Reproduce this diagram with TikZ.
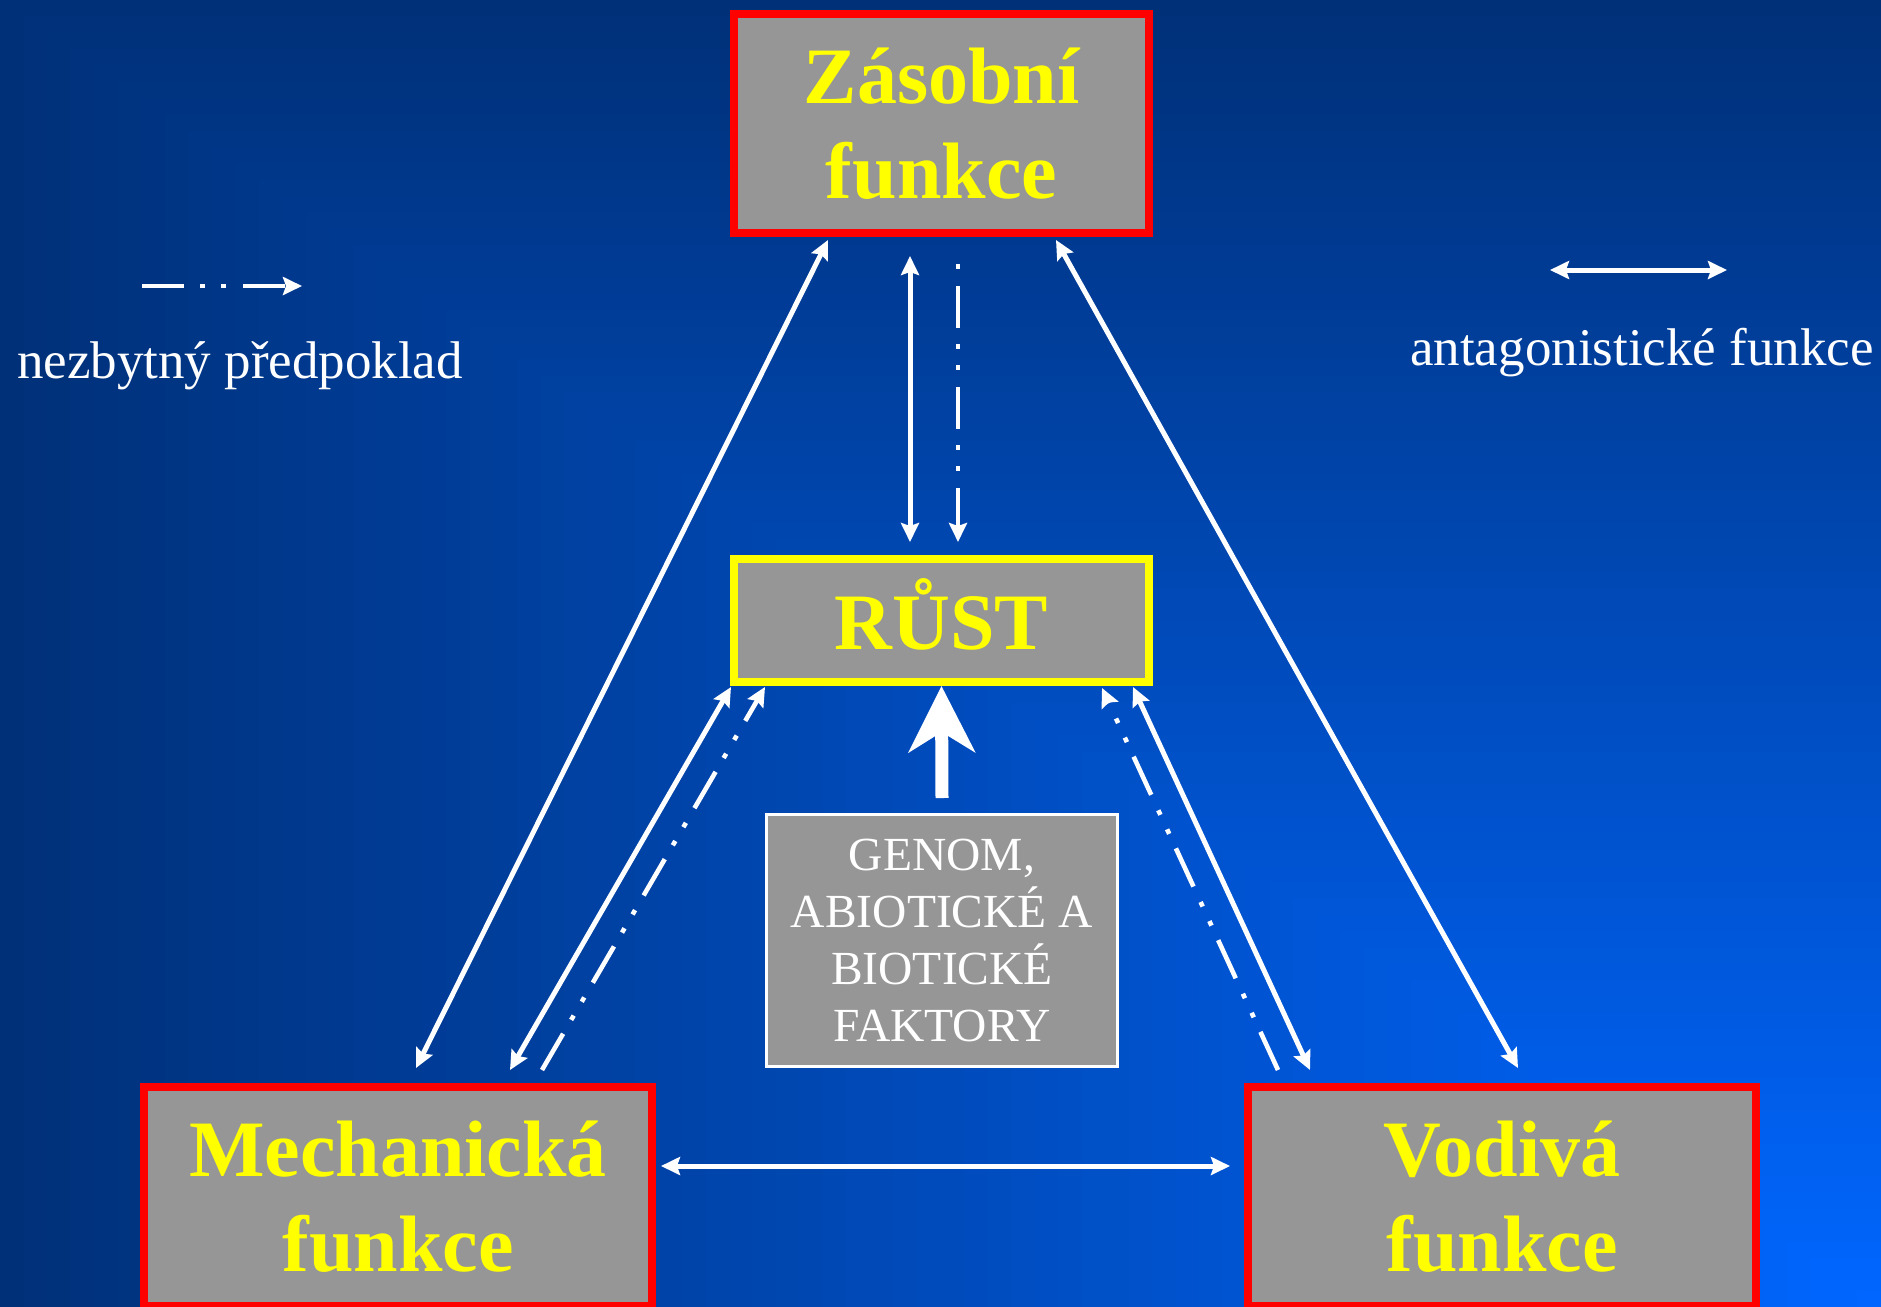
\documentclass[tikz,border=0pt]{standalone}
\usepackage{fontspec}
\setmainfont{Liberation Serif}
\usepackage{tikz}
\usepackage{xcolor}
\usetikzlibrary{arrows.meta,calc}
\definecolor{bgdark}{HTML}{003078}
\definecolor{bgbright}{HTML}{0066FF}
\definecolor{boxgray}{HTML}{969696}
\definecolor{funcred}{HTML}{FF0000}
\definecolor{titleyel}{HTML}{FFFF00}

\begin{document}
\begin{tikzpicture}[x=0.5pt,y=-0.5pt,
  >={Stealth[length=9.5pt,width=9pt,inset=1.5pt]},
  funcbox/.style={draw=funcred,line width=4pt,fill=boxgray,text=titleyel,align=center,
    font=\fontsize{40}{47.5}\selectfont\bfseries,inner sep=0pt,
    minimum width=207.5pt,minimum height=109.5pt},
  twoway/.style={draw=white,line width=2.5pt,<->},
  needs/.style={draw=white,line width=2.3pt,->,
    dash pattern=on 21pt off 8pt on 2.5pt off 8pt on 2.5pt off 8.5pt},
  legend/.style={text=white,font=\fontsize{26.5}{32}\selectfont,inner sep=0pt}]
\useasboundingbox (0,0) rectangle (1881,1307);
\foreach \k in {0,...,79} {
  \pgfmathsetmacro\gmix{100*\k/79}
  \pgfmathsetmacro\gs{1-\k/80}
  \fill[bgbright!\gmix!bgdark] ({1881*(1-\gs)},{1307*(1-\gs)}) rectangle (1881,1307);
}

\node (zas) at (941.5,123.5) [funcbox] {Zásobní\\funkce};
\node (rust) at (941.5,620.5) [funcbox,draw=titleyel,minimum height=61.5pt,
  text height=28.5pt,text depth=0pt] {RŮST};
\node (mech) at (398,1196.5) [funcbox,minimum width=254pt] {Mechanická\\funkce};
\node (vod) at (1502,1196.5) [funcbox,minimum width=254pt] {Vodivá\\funkce};
\node (genom) at (942,940.5) [draw=white,line width=1.5pt,fill=boxgray,text=white,
  align=center,font=\fontsize{23.75}{28.6}\selectfont,inner sep=0pt,
  minimum width=175.5pt,minimum height=126pt] {GENOM,\\ABIOTICKÉ A\\BIOTICKÉ\\FAKTORY};

\draw[white,line width=6.5pt,-{Stealth[length=33pt,width=33pt,inset=10pt]}]
  ($(genom.north)+(0,-15)$) -- (rust.south);

\draw[twoway] ($(zas.south)+(-113.5,3)$) -- ($(mech.north)+(18,-15)$);
\draw[twoway] ($(zas.south)+(114.5,3)$) -- ($(vod.north)+(16,-15)$);
\draw[twoway] ($(zas.south)+(-31.5,19)$) -- ($(rust.north)+(-31.5,-13)$);
\draw[needs,dash phase=39.5pt] ($(zas.south)+(16.5,27)$) -- ($(rust.north)+(16.5,-13)$);
\draw[twoway] ($(rust.south west)+(1,1)$) -- ($(mech.north)+(112,-13)$);
\draw[needs] ($(mech.north)+(144,-13)$) -- ($(rust.south west)+(35,1)$);
\draw[needs] ($(vod.north)+(-224,-13)$) -- ($(rust.south east)+(-51,2)$);
\draw[twoway] ($(rust.south east)+(-20,1)$) -- ($(vod.north)+(-192,-13)$);
\draw[twoway] ($(mech.east)+(5,-30.5)$) -- ($(vod.west)+(-14,-30.5)$);

\coordinate (needA) at (142,286);
\coordinate (needB) at (302,286);
\draw[needs] (needA) -- (needB);
\node (needtxt) at (240,378) [anchor=base,legend] {nezbytný předpoklad};
\coordinate (antA) at (1550,270);
\coordinate (antB) at (1727,270);
\draw[twoway] (antA) -- (antB);
\node (anttxt) at (1642,365) [anchor=base,legend] {antagonistické funkce};
\end{tikzpicture}
\end{document}
